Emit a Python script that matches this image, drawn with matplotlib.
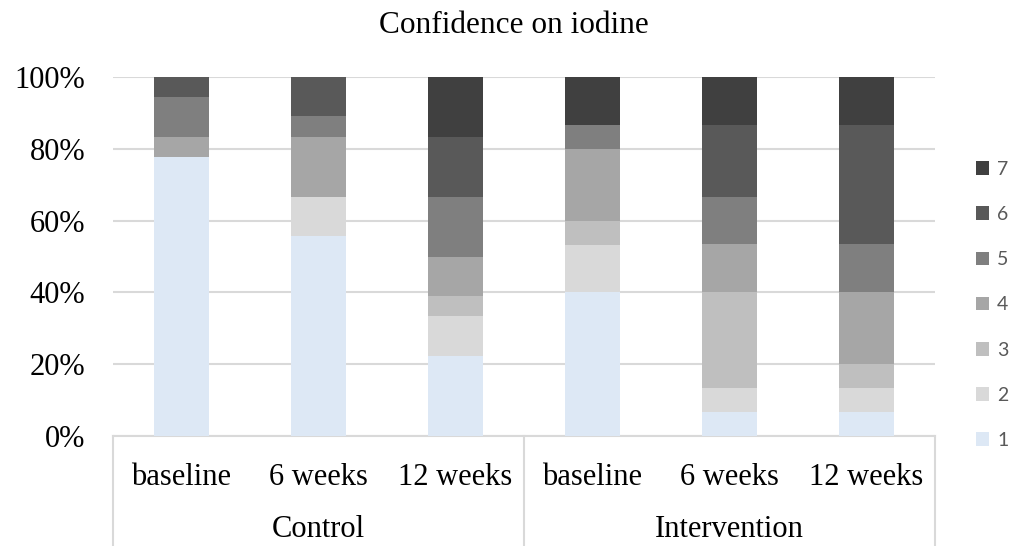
import matplotlib
matplotlib.use("Agg")
import matplotlib.pyplot as plt
from matplotlib.patches import Patch
import matplotlib.transforms as mtransforms

categories = ["baseline", "6 weeks", "12 weeks", "baseline", "6 weeks", "12 weeks"]
groups = ["Control", "Intervention"]
levels = ["1", "2", "3", "4", "5", "6", "7"]

level1 = [77.8, 55.6, 22.2, 40.0, 6.7, 6.7]
level2 = [0.0, 11.1, 11.1, 13.3, 6.7, 6.7]
level3 = [0.0, 0.0, 5.6, 6.7, 26.7, 6.7]
level4 = [5.6, 16.7, 11.1, 20.0, 13.3, 20.0]
level5 = [11.1, 5.6, 16.7, 6.7, 13.3, 13.3]
level6 = [5.5, 11.0, 16.7, 0.0, 20.0, 33.3]
level7 = [0.0, 0.0, 16.6, 13.3, 13.3, 13.3]
series = [level1, level2, level3, level4, level5, level6, level7]

colors = ["#DDE8F5", "#D9D9D9", "#BFBFBF", "#A6A6A6", "#7F7F7F", "#595959", "#404040"]

serif = ["Liberation Serif", "DejaVu Serif"]

fig = plt.figure(figsize=(10.12, 5.46), dpi=100)
ax = fig.add_axes([113 / 1012, 1 - 436 / 546, (935 - 113) / 1012, (436 - 77) / 546])

x = list(range(len(categories)))
bottom = [0.0] * len(categories)
handles = []
for lab, vals, col in zip(levels, series, colors):
    ax.bar(x, vals, width=0.4, bottom=bottom, color=col, edgecolor="none", zorder=3)
    bottom = [b + v for b, v in zip(bottom, vals)]
    handles.append(Patch(facecolor=col, edgecolor="none", label=lab))

ax.set_xlim(-0.5, len(categories) - 0.5)
ax.set_ylim(0, 100)
ax.set_yticks([0, 20, 40, 60, 80, 100])
ax.set_yticklabels([f"{v}%" for v in [0, 20, 40, 60, 80, 100]], fontfamily=serif, fontsize=22)
ax.tick_params(axis="y", length=0, pad=20)
ax.set_xticks([])
ax.grid(axis="y", color="#D9D9D9", linewidth=1.5, zorder=0)
for s in ["top", "right", "left"]:
    ax.spines[s].set_visible(False)
ax.spines["bottom"].set_color("#D9D9D9")
ax.spines["bottom"].set_linewidth(1.5)

trans = mtransforms.blended_transform_factory(ax.transData, ax.transAxes)
for xi, c in zip(x, categories):
    ax.text(xi, -0.136, c, transform=trans, ha="center", va="baseline",
            fontfamily=serif, fontsize=22)
for gi, g in enumerate(groups):
    ax.text(gi * 3 + 1, -0.281, g, transform=trans, ha="center", va="baseline",
            fontfamily=serif, fontsize=22)
for xs in [-0.5, 2.5, 5.5]:
    ax.plot([xs, xs], [0, -0.31], transform=trans, color="#D9D9D9", linewidth=1.5,
            clip_on=False)

fig.text(514 / 1012, 1 - 33 / 546, "Confidence on iodine", ha="center", va="baseline",
         fontfamily=serif, fontsize=22.5)

leg = fig.legend(handles=handles[::-1], loc="center left",
                 bbox_to_anchor=(968 / 1012, 1 - 305 / 546), frameon=False,
                 prop={"family": ["Lato", "DejaVu Sans"], "size": 14},
                 handlelength=0.7, handleheight=0.7, handletextpad=0.4,
                 labelspacing=1.45, borderaxespad=0)
for t in leg.get_texts():
    t.set_color("#595959")

fig.savefig("out.png", dpi=100)
